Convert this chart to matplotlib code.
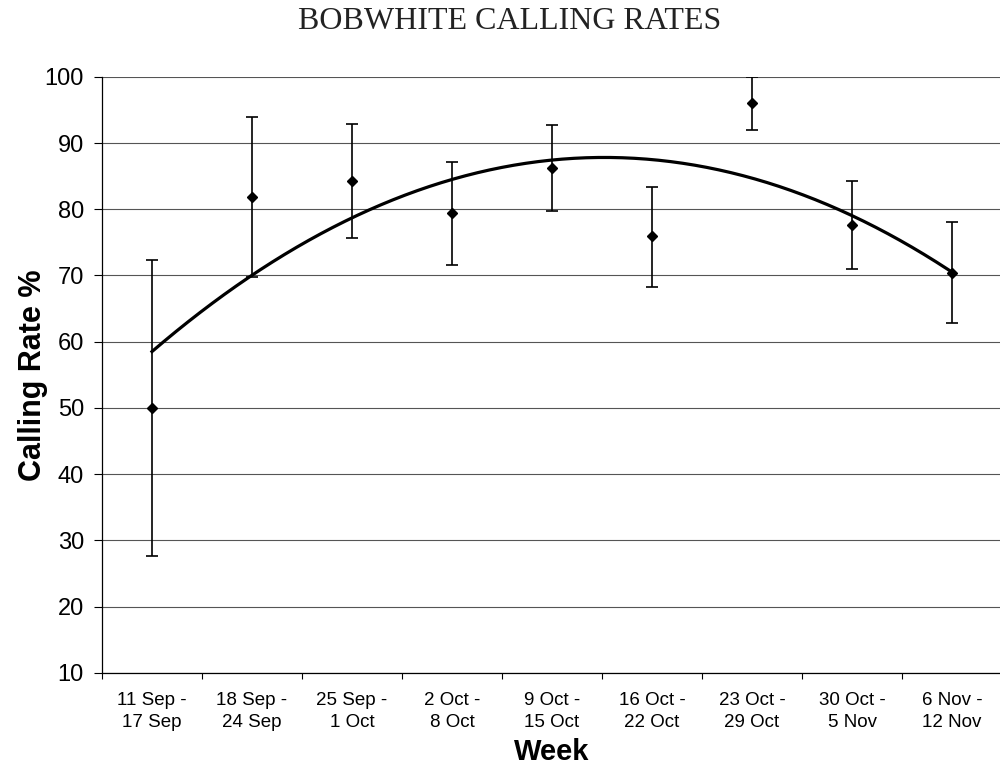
import matplotlib
matplotlib.use("Agg")
import matplotlib.pyplot as plt
import numpy as np

# Weekly calling rates (mean with error bar ends)
weeks = ["11 Sep -\n17 Sep", "18 Sep -\n24 Sep", "25 Sep -\n1 Oct", "2 Oct -\n8 Oct",
         "9 Oct -\n15 Oct", "16 Oct -\n22 Oct", "23 Oct -\n29 Oct", "30 Oct -\n5 Nov",
         "6 Nov -\n12 Nov"]
rate = [50.0, 81.9, 84.3, 79.4, 86.3, 75.9, 96.0, 77.6, 70.4]
upper = [72.3, 94.0, 92.8, 87.1, 92.7, 83.4, 100.0, 84.2, 78.0]
lower = [27.7, 69.7, 75.6, 71.6, 79.7, 68.2, 92.0, 70.9, 62.8]
# polynomial trendline, values read at each week
trend = [58.5, 69.9, 78.9, 84.6, 87.4, 87.2, 84.7, 79.3, 70.4]

x = np.arange(1, len(weeks) + 1)
rate = np.array(rate)
yerr = [rate - np.array(lower), np.array(upper) - rate]

fig = plt.figure(figsize=(10, 7.68), dpi=100)
ax = fig.add_axes([0.102, 0.124, 0.9, 0.776])

ax.set_ylim(10, 100)
ax.set_xlim(0.5, len(weeks) + 0.5)
ax.set_yticks(range(10, 101, 10))
ax.grid(axis="y", color="#555555", linewidth=0.8)
ax.set_axisbelow(True)

coef = np.polyfit(x, trend, 2)
xs = np.linspace(1, len(weeks), 200)
ax.plot(xs, np.polyval(coef, xs), color="black", linewidth=2.3, zorder=3)

ax.errorbar(x, rate, yerr=yerr, fmt="D", color="black", markersize=5,
            elinewidth=1.2, capsize=4, capthick=1.2, zorder=4)

# category ticks sit between the weeks, labels centred on the weeks
ax.set_xticks(np.arange(0.5, len(weeks) + 1, 1))
ax.set_xticklabels([])
ax.set_xticks(x, minor=True)
ax.set_xticklabels(weeks, minor=True, fontsize=13.5, family="Liberation Sans",
                   linespacing=1.35)
ax.tick_params(axis="x", which="major", direction="out", length=4, width=0.8)
ax.tick_params(axis="x", which="minor", length=0, pad=14)
ax.tick_params(axis="y", direction="out", length=6, width=0.8, pad=7)
for lab in ax.get_yticklabels():
    lab.set_fontsize(17)
    lab.set_family("Liberation Sans")

for s in ["top", "right"]:
    ax.spines[s].set_visible(False)
for s in ["left", "bottom"]:
    ax.spines[s].set_color("black")
    ax.spines[s].set_linewidth(0.9)

ax.set_ylabel("Calling Rate %", fontsize=22, fontweight="bold",
              family="Liberation Sans")
ax.yaxis.set_label_coords(-0.0605, 0.5)
ax.set_xlabel("Week", fontsize=21, fontweight="bold", family="Liberation Sans")
ax.xaxis.set_label_coords(0.5, -0.109)

fig.text(0.51, 0.972, "BOBWHITE CALLING RATES", ha="center", va="center",
         fontsize=23, family="Liberation Serif", color="#222222")

fig.savefig("out.png", dpi=100)
